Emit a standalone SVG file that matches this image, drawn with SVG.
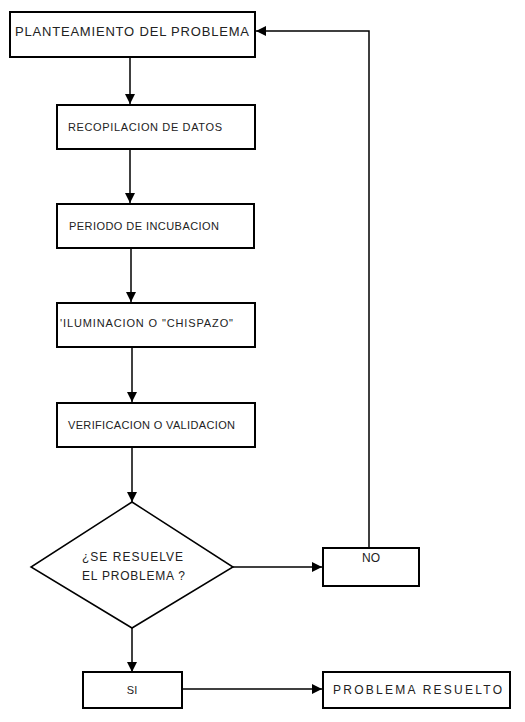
<svg xmlns="http://www.w3.org/2000/svg" width="525" height="722" viewBox="0 0 525 722">
<style>
.box{fill:#fff;stroke:#000;stroke-width:2}
.t{font-family:"Liberation Sans",Arial,sans-serif;font-size:11px;fill:#222}
.l{font-size:13px}
.m{font-size:12px}
.c{stroke:#000;stroke-width:1.5;fill:none}
</style>
<defs>
<marker id="ah" viewBox="0 0 10 10" refX="10" refY="5" markerWidth="10" markerHeight="10" markerUnits="userSpaceOnUse" orient="auto">
<path d="M0,0 L10,5 L0,10 z" fill="#000"/>
</marker>
</defs>
<rect width="525" height="722" fill="#fff"/>
<g id="connectors">
<line class="c" x1="130" y1="58" x2="130" y2="104" marker-end="url(#ah)"/>
<line class="c" x1="130" y1="149" x2="130" y2="203" marker-end="url(#ah)"/>
<line class="c" x1="131" y1="248" x2="131" y2="302" marker-end="url(#ah)"/>
<line class="c" x1="132" y1="347" x2="132" y2="402" marker-end="url(#ah)"/>
<line class="c" x1="132" y1="447" x2="132" y2="502" marker-end="url(#ah)"/>
<line class="c" x1="233" y1="567" x2="322" y2="567" marker-end="url(#ah)"/>
<polyline class="c" points="369,548 369,31 256,31" marker-end="url(#ah)"/>
<line class="c" x1="132" y1="628" x2="132" y2="672" marker-end="url(#ah)"/>
<line class="c" x1="183" y1="689" x2="322" y2="689" marker-end="url(#ah)"/>
</g>
<g id="n1">
<rect class="box" x="10" y="12" width="245" height="45" stroke-width="2.5"/>
<text class="t l" x="15" y="36" textLength="234" lengthAdjust="spacing">PLANTEAMIENTO DEL PROBLEMA</text>
</g>
<g id="n2">
<rect class="box" x="57" y="105" width="198" height="44"/>
<text class="t" x="68" y="131" textLength="154" lengthAdjust="spacing">RECOPILACION DE DATOS</text>
</g>
<g id="n3">
<rect class="box" x="57" y="204" width="197" height="44"/>
<text class="t" x="69" y="230" textLength="150" lengthAdjust="spacing">PERIODO DE INCUBACION</text>
</g>
<g id="n4">
<rect class="box" x="57" y="303" width="198" height="44"/>
<text class="t" x="60" y="327" textLength="173" lengthAdjust="spacing">'ILUMINACION O "CHISPAZO"</text>
</g>
<g id="n5">
<rect class="box" x="57" y="403" width="198" height="44"/>
<text class="t" x="68" y="429" textLength="167" lengthAdjust="spacing">VERIFICACION O VALIDACION</text>
</g>
<g id="n6">
<polygon points="132,502 233,567 132,628 31,567" fill="#fff" stroke="#000" stroke-width="1.5"/>
<text class="t m" x="82" y="561" textLength="101" lengthAdjust="spacing">¿SE RESUELVE</text>
<text class="t m" x="82" y="580" textLength="103" lengthAdjust="spacing">EL PROBLEMA ?</text>
</g>
<g id="n7">
<rect class="box" x="323" y="548" width="96" height="38"/>
<text class="t m" x="371" y="562" text-anchor="middle">NO</text>
</g>
<g id="n8">
<rect class="box" x="83" y="672" width="99" height="36"/>
<text class="t" x="132" y="694" text-anchor="middle">SI</text>
</g>
<g id="n9">
<rect class="box" x="323" y="672" width="187" height="36"/>
<text class="t m" x="333" y="694" textLength="169" lengthAdjust="spacing">PROBLEMA RESUELTO</text>
</g>
</svg>
